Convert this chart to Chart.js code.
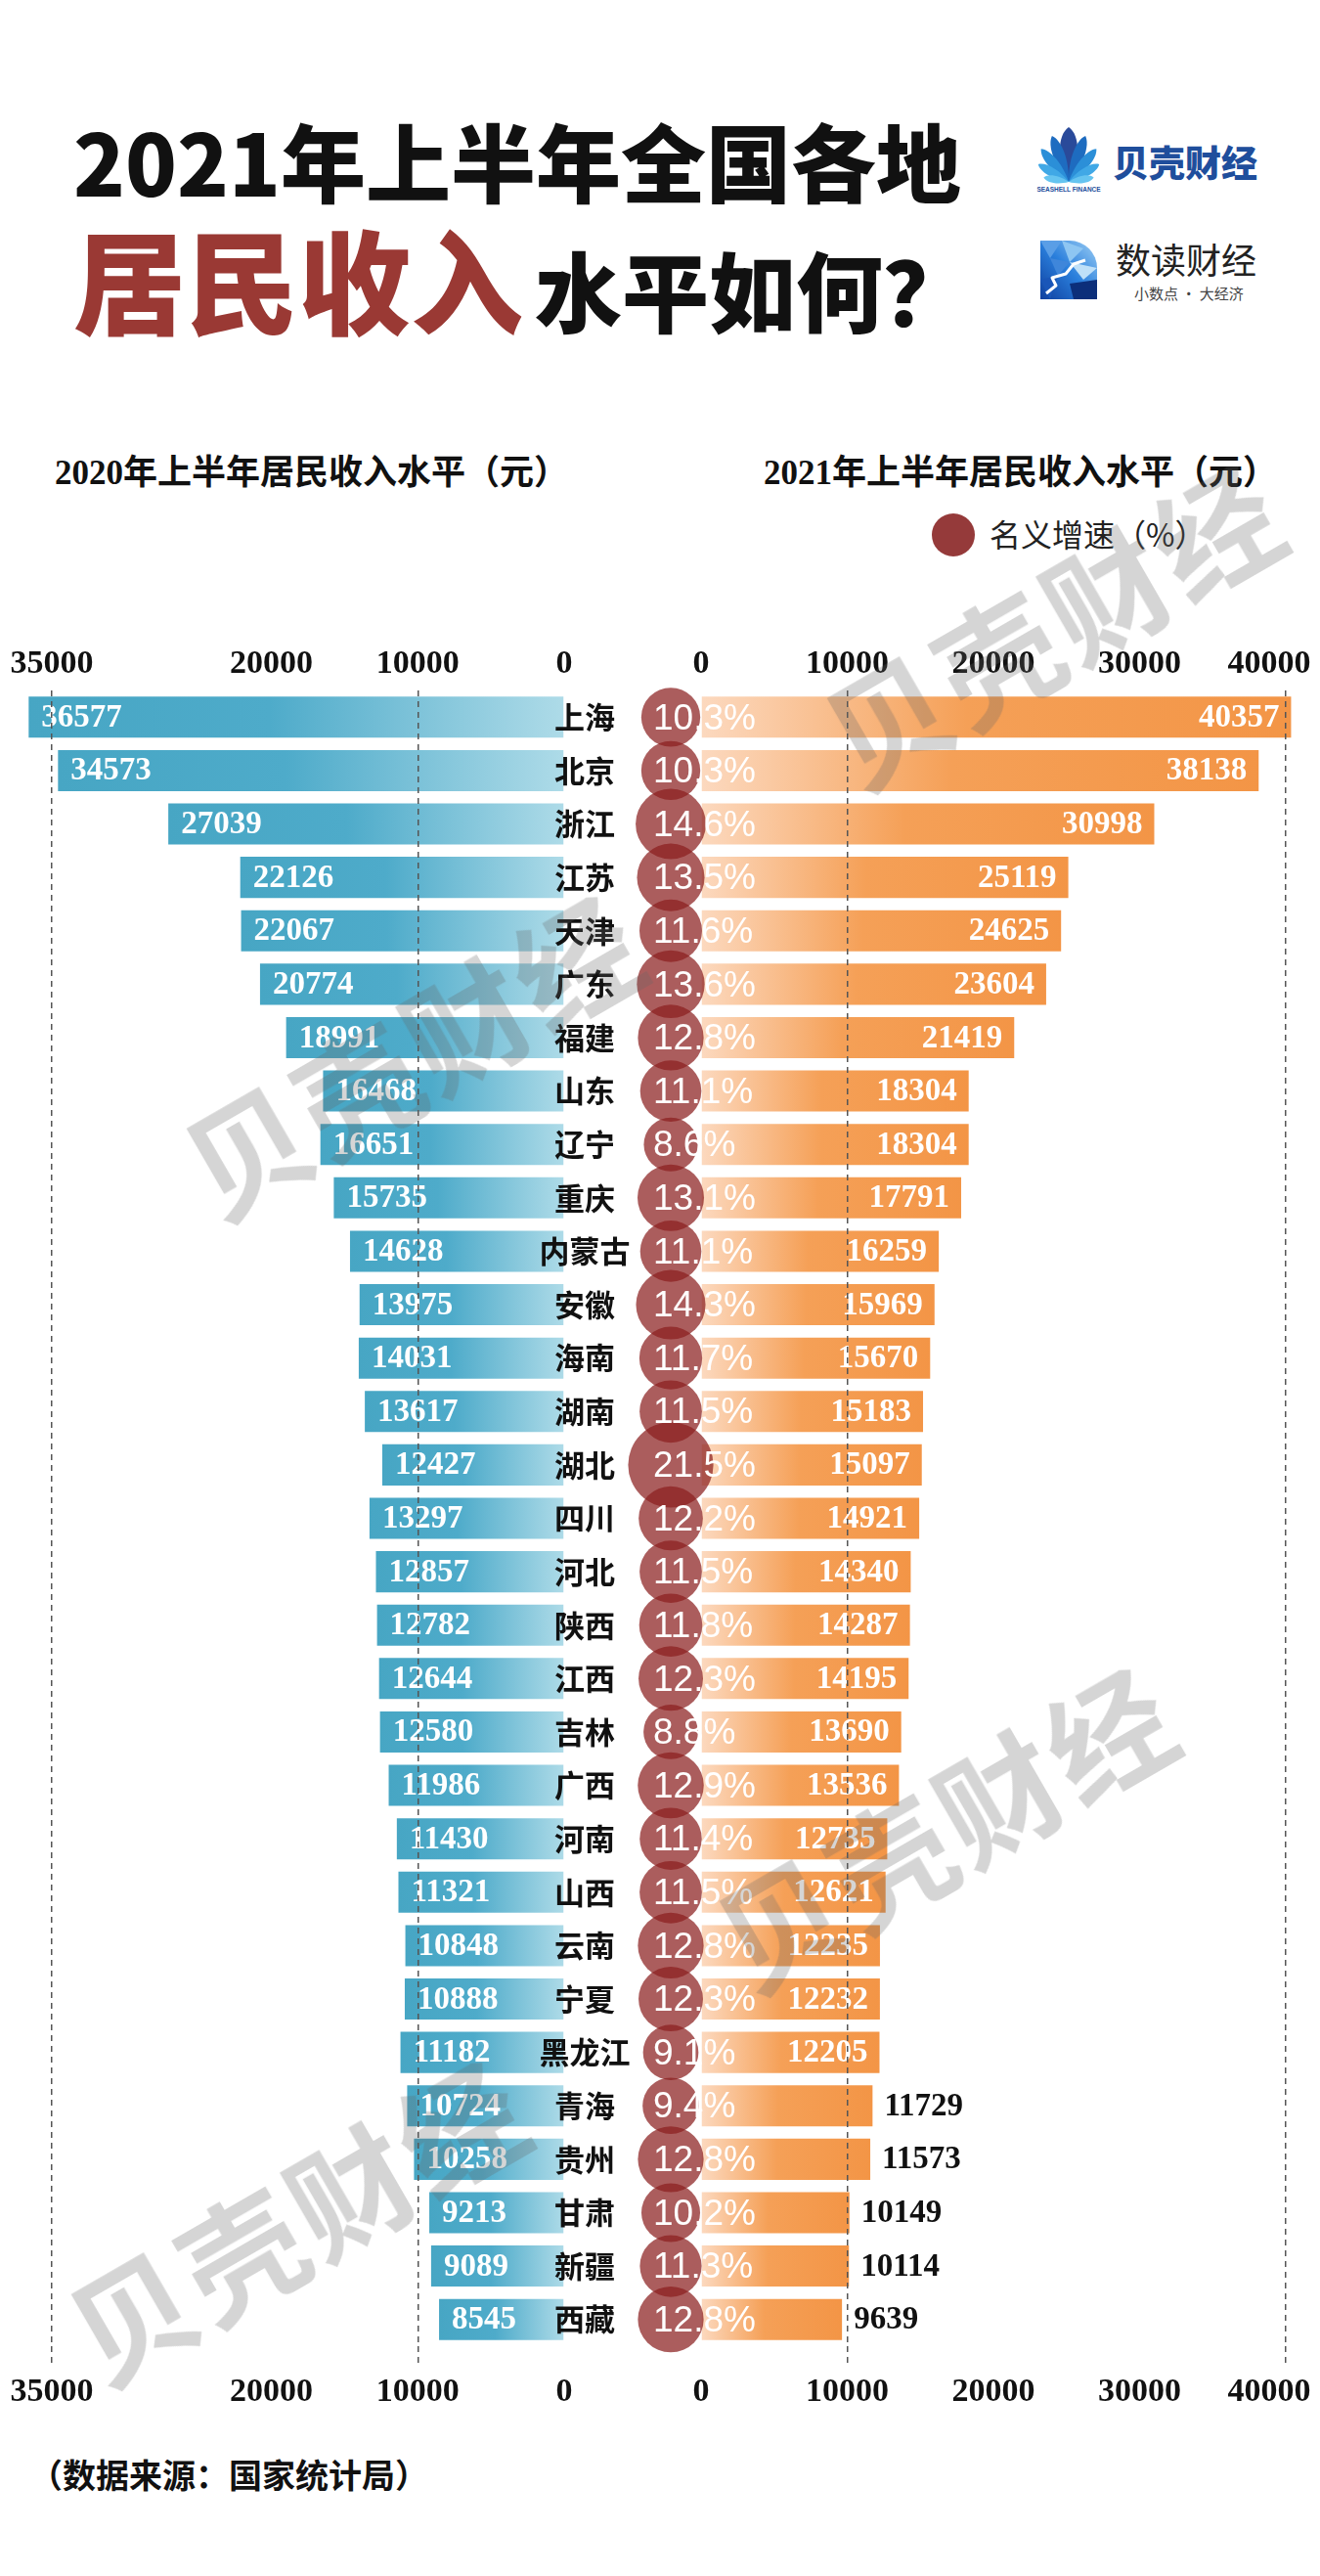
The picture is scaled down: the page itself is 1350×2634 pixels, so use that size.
<!DOCTYPE html>
<html lang="zh-CN">
<head>
<meta charset="utf-8">
<title>2021年上半年全国各地居民收入水平如何？</title>
<script src="https://cdn.jsdelivr.net/npm/chart.js@4.4.1/dist/chart.umd.min.js"></script>
<style>
html, body { margin: 0; padding: 0; background: #fff; }
body { width: 1350px; height: 2634px; position: relative; overflow: hidden; font-family: 'Noto Sans CJK SC', sans-serif; }
.abs { position: absolute; white-space: nowrap; line-height: 1; }
#title1 { left: 75px; top: 120px; font-size: 87px; font-weight: 900; color: #111; }
#title2 { left: 75px; top: 226px; font-size: 115px; font-weight: 900; color: #9a3934; }
#title2 span { font-size: 89px; color: #111; margin-left: 12px; }
.brand1 { left: 1138px; top: 147px; font-size: 37px; font-weight: 900; color: #1f4e9c; }
.brand2 { left: 1141px; top: 246px; font-size: 36px; font-weight: 400; color: #222; }
.brand2sub { left: 1160px; top: 292px; font-size: 15px; color: #444; }
.sub { top: 466px; font-family: 'Liberation Serif', 'Noto Sans CJK SC', serif; font-size: 35px; font-weight: 700; color: #111; }
#legendDot { left: 953px; top: 525px; width: 44px; height: 44px; border-radius: 50%; background: #953a3a; }
#legendText { left: 1012px; top: 529px; font-size: 32px; color: #222; }
#source { left: 30px; top: 2513px; font-size: 34px; font-weight: 700; color: #111; }
canvas { position: absolute; }
#left { left: 0; top: 640px; z-index: 1; }
#right { left: 690px; top: 640px; z-index: 1; }
#middle { left: 546px; top: 640px; z-index: 2; }
.mark { z-index: 5; font-size: 125px; font-weight: 700; letter-spacing: 4px; color: rgba(100, 100, 100, 0.27);
        transform: translate(-50%, -50%) rotate(-30deg); pointer-events: none; }
</style>
</head>
<body>

<div id="title1" class="abs">2021年上半年全国各地</div>
<div id="title2" class="abs">居民收入<span>水平如何？</span></div>

<svg id="shell" class="abs" style="left:1052px;top:128px" width="82" height="72" viewBox="0 0 82 72">
  <text x="41" y="68" font-size="6.5" font-weight="700" fill="#1f4f9c" text-anchor="middle" font-family="Liberation Sans">SEASHELL FINANCE</text>
</svg>
<div class="abs brand1">贝壳财经</div>

<svg class="abs" style="left:1064px;top:246px" width="58" height="60" viewBox="0 0 58 60">
  <defs>
    <linearGradient id="sd" x1="0" y1="1" x2="1" y2="0">
      <stop offset="0" stop-color="#0f3f9e"/><stop offset="0.5" stop-color="#2a7fdc"/><stop offset="1" stop-color="#9fd0f5"/>
    </linearGradient>
    <clipPath id="sdc"><path d="M0 0H30A28 28 0 0 1 58 28V60H0Z"/></clipPath>
  </defs>
  <g clip-path="url(#sdc)">
    <rect width="58" height="60" fill="url(#sd)"/>
    <polygon points="0,0 22,0 10,18" fill="#5a9ee6"/>
    <polygon points="22,0 44,8 30,22" fill="#8ec6f2"/>
    <polygon points="10,18 30,22 18,36" fill="#3f86da"/>
    <polygon points="30,22 58,28 44,40" fill="#bfe0f8"/>
    <polygon points="0,40 18,36 10,60" fill="#1a56b8"/>
    <polygon points="30,44 58,40 58,60 34,60" fill="#0c2f7a"/>
    <polyline points="6,54 16,46 12,38 26,34 34,24 46,20" fill="none" stroke="#fff" stroke-width="3" stroke-linejoin="round"/>
  </g>
</svg>
<div class="abs brand2">数读财经</div>
<div class="abs brand2sub">小数点 · 大经济</div>

<div class="abs sub" style="left:56px">2020年上半年居民收入水平（元）</div>
<div class="abs sub" style="left:781px">2021年上半年居民收入水平（元）</div>

<div id="legendDot" class="abs"></div>
<div id="legendText" class="abs">名义增速（%）</div>

<canvas id="left" width="600" height="1829"></canvas>
<canvas id="right" width="660" height="1829"></canvas>
<canvas id="middle" width="280" height="1829"></canvas>

<div id="source" class="abs">（数据来源：国家统计局）</div>

<div class="abs mark" style="left:1075px;top:635px">贝壳财经</div>
<div class="abs mark" style="left:420px;top:1075px">贝壳财经</div>
<div class="abs mark" style="left:965px;top:1865px">贝壳财经</div>
<div class="abs mark" style="left:302px;top:2267px">贝壳财经</div>

<script>
const PROVINCES = ['上海', '北京', '浙江', '江苏', '天津', '广东', '福建', '山东', '辽宁', '重庆',
    '内蒙古', '安徽', '海南', '湖南', '湖北', '四川', '河北', '陕西', '江西', '吉林',
    '广西', '河南', '山西', '云南', '宁夏', '黑龙江', '青海', '贵州', '甘肃', '新疆', '西藏'];
const INCOME_2020 = [36577, 34573, 27039, 22126, 22067, 20774, 18991, 16468, 16651, 15735,
    14628, 13975, 14031, 13617, 12427, 13297, 12857, 12782, 12644, 12580,
    11986, 11430, 11321, 10848, 10888, 11182, 10724, 10258, 9213, 9089, 8545];
const INCOME_2021 = [40357, 38138, 30998, 25119, 24625, 23604, 21419, 18304, 18304, 17791,
    16259, 15969, 15670, 15183, 15097, 14921, 14340, 14287, 14195, 13690,
    13536, 12735, 12621, 12235, 12232, 12205, 11729, 11573, 10149, 10114, 9639];
const GROWTH = [10.3, 10.3, 14.6, 13.5, 11.6, 13.6, 12.8, 11.1, 8.6, 13.1,
    11.1, 14.3, 11.7, 11.5, 21.5, 12.2, 11.5, 11.8, 12.3, 8.8,
    12.9, 11.4, 11.5, 12.8, 12.3, 9.1, 9.4, 12.8, 10.2, 11.3, 12.8];

const LEFT_TICKS = [0, 10000, 20000, 35000];
const LEFT_GRID = [10000, 35000];
const RIGHT_TICKS = [0, 10000, 20000, 30000, 40000];
const RIGHT_GRID = [10000, 40000];

const LEFT_MAX = 38000;
const RIGHT_MAX = 42000;
const INSIDE_MIN = 12000;   // shorter 2021 bars get their label outside

const NUM_FONT = "'Liberation Serif', serif";
const CJK_FONT = "'Noto Sans CJK SC', sans-serif";
const PCT_FONT = "'Liberation Sans', Arial, sans-serif";
const AXIS_TOP = 66;
const AXIS_BOTTOM = 70;
const GRID_COLOR = '#555';
const TRANSPARENT = '#00000000';
const BLUE_STOPS = [[0, '#aedbe8'], [0.55, '#4eabca'], [1, '#47a6c4']];
const ORANGE_STOPS = [[0, '#fcd9bf'], [0.45, '#f5a057'], [1, '#f39546']];
const BUBBLE_COLOR = 'rgba(139, 30, 30, 0.72)';
const BUBBLE_K = 9.4;

// shell logo petals: angle, length, half width, colour
const PETALS = [[-80, 26, 5, '#66c4f0'], [80, 26, 5, '#66c4f0'], [-60, 36, 6, '#40a8e6'], [60, 36, 6, '#40a8e6'],
    [-40, 44, 7, '#2b8fd8'], [40, 44, 7, '#2b8fd8'], [-20, 50, 8, '#1e6cc0'], [20, 50, 8, '#1e6cc0'], [0, 56, 12, '#2a4a9a']];

function drawShell() {
    const svg = document.getElementById('shell');
    PETALS.forEach(([a, len, w, c]) => {
        const p = document.createElementNS('http://www.w3.org/2000/svg', 'path');
        p.setAttribute('d', 'M0 0C-1 -0.4 -1 -0.85 0 -1C1 -0.85 1 -0.4 0 0Z');
        p.setAttribute('fill', c);
        p.setAttribute('transform', `translate(41 58) rotate(${a}) scale(${w} ${len})`);
        svg.insertBefore(p, svg.firstChild);
    });
}

function barGradient(stops) {
    const solid = stops[stops.length - 1][1];
    return function (ctx) {
        if (ctx.type !== 'data') return solid;
        const chart = ctx.chart;
        const x = chart.scales.x;
        const x0 = x.getPixelForValue(0);
        const x1 = x.getPixelForValue(ctx.raw);
        if (!isFinite(x0) || !isFinite(x1) || x0 === x1) return solid;
        const g = chart.ctx.createLinearGradient(x0, 0, x1, 0);
        stops.forEach(([o, c]) => g.addColorStop(o, c));
        return g;
    };
}

function valueAxis(position, reverse, max, ticks, grid) {
    const main = position === 'top';
    const lineColor = c => (c.tick && grid.includes(c.tick.value)) ? GRID_COLOR : TRANSPARENT;
    return {
        type: 'linear',
        position,
        reverse,
        min: 0,
        max,
        afterBuildTicks: s => { s.ticks = ticks.map(value => ({ value })); },
        afterFit: s => {
            s.height = main ? AXIS_TOP : AXIS_BOTTOM;
            s.paddingLeft = 0;
            s.paddingRight = 0;
        },
        border: { display: false, dash: [6, 5] },
        grid: {
            z: 1,
            drawOnChartArea: main,
            drawTicks: !main,
            tickLength: 19,
            lineWidth: 1.5,
            tickWidth: 1.5,
            color: lineColor,
            tickColor: lineColor,
            tickBorderDash: [6, 5]
        },
        ticks: {
            autoSkip: false,
            maxRotation: 0,
            padding: main ? 6 : 8,
            color: '#111',
            font: { family: NUM_FONT, size: 34, weight: 'bold' },
            // nudge the last right-hand label inwards so it stays on the page
            callback: v => String(v) + (v === 40000 ? '\u00a0\u00a0\u00a0\u00a0' : '')
        }
    };
}

const barLabels = {
    id: 'barLabels',
    afterDatasetsDraw(chart, args, opts) {
        const ctx = chart.ctx;
        const values = chart.data.datasets[0].data;
        ctx.save();
        ctx.font = `bold 33px ${NUM_FONT}`;
        ctx.textBaseline = 'middle';
        chart.getDatasetMeta(0).data.forEach((bar, i) => {
            const text = String(values[i]);
            if (opts.side === 'left') {
                ctx.fillStyle = '#fff';
                ctx.textAlign = 'left';
                ctx.fillText(text, bar.x + 13, bar.y + 1);
            } else if (values[i] >= INSIDE_MIN) {
                ctx.fillStyle = '#fff';
                ctx.textAlign = 'right';
                ctx.fillText(text, bar.x - 12, bar.y + 1);
            } else {
                ctx.fillStyle = '#111';
                ctx.textAlign = 'left';
                ctx.fillText(text, bar.x + 12, bar.y + 1);
            }
        });
        ctx.restore();
    }
};

const middleLabels = {
    id: 'middleLabels',
    afterDatasetsDraw(chart) {
        const ctx = chart.ctx;
        ctx.save();
        ctx.textBaseline = 'middle';
        chart.getDatasetMeta(0).data.forEach((pt, i) => {
            ctx.fillStyle = '#111';
            ctx.textAlign = 'center';
            ctx.font = `bold 31px ${CJK_FONT}`;
            ctx.fillText(PROVINCES[i], pt.x - 88, pt.y);
            ctx.fillStyle = '#fff';
            ctx.textAlign = 'left';
            ctx.font = `37px ${PCT_FONT}`;
            ctx.fillText(GROWTH[i].toFixed(1) + '%', pt.x - 18, pt.y + 2);
        });
        ctx.restore();
    }
};

function barChart(id, values, stops, reverse, max, ticks, grid, padding, side) {
    return new Chart(document.getElementById(id), {
        type: 'bar',
        data: {
            labels: PROVINCES,
            datasets: [{
                data: values,
                backgroundColor: barGradient(stops),
                borderWidth: 0,
                barPercentage: 0.77,
                categoryPercentage: 1
            }]
        },
        options: {
            indexAxis: 'y',
            responsive: false,
            animation: false,
            events: [],
            layout: { padding },
            plugins: {
                legend: { display: false },
                tooltip: { enabled: false },
                barLabels: { side }
            },
            scales: {
                x: valueAxis('top', reverse, max, ticks, grid),
                x2: valueAxis('bottom', reverse, max, ticks, grid),
                y: { display: false, offset: true }
            }
        },
        plugins: [barLabels]
    });
}

function bubbleChart() {
    return new Chart(document.getElementById('middle'), {
        type: 'bubble',
        data: {
            datasets: [{
                data: PROVINCES.map((p, i) => ({ x: 0, y: p, r: BUBBLE_K * Math.sqrt(GROWTH[i]) })),
                backgroundColor: BUBBLE_COLOR,
                borderWidth: 0,
                clip: false
            }]
        },
        options: {
            responsive: false,
            animation: false,
            events: [],
            layout: { autoPadding: false, padding: { top: AXIS_TOP, bottom: AXIS_BOTTOM, left: 0, right: 0 } },
            plugins: { legend: { display: false }, tooltip: { enabled: false } },
            scales: {
                x: { type: 'linear', min: -1, max: 1, display: false },
                y: { type: 'category', labels: PROVINCES, offset: true, display: false }
            }
        },
        plugins: [middleLabels]
    });
}

drawShell();
barChart('left', INCOME_2020, BLUE_STOPS, true, LEFT_MAX, LEFT_TICKS, LEFT_GRID, { left: 8, right: 23, top: 0, bottom: 0 }, 'left');
barChart('right', INCOME_2021, ORANGE_STOPS, false, RIGHT_MAX, RIGHT_TICKS, RIGHT_GRID, { left: 27, right: 5, top: 0, bottom: 0 }, 'right');
bubbleChart();
</script>
</body>
</html>
